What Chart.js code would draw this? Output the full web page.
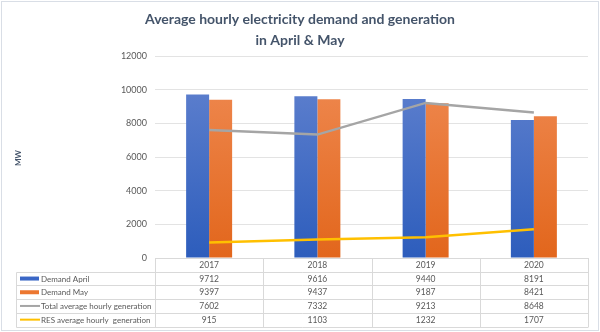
<!DOCTYPE html>
<html>
<head>
<meta charset="utf-8">
<script src="https://cdn.jsdelivr.net/npm/chart.js@4/dist/chart.umd.min.js"></script>
<style>
  html, body { margin: 0; padding: 0; background: #fff; }
  #chart { display: block; }
</style>
</head>
<body>
<canvas id="chart" width="600" height="332"></canvas>
<script>
const years = ['2017', '2018', '2019', '2020'];
const demandApril = [9712, 9616, 9440, 8191];
const demandMay = [9397, 9437, 9187, 8421];
const totalGeneration = [7602, 7332, 9213, 8648];
const resGeneration = [915, 1103, 1232, 1707];
const seriesNames = ['Demand April', 'Demand May', 'Total average hourly generation', 'RES average hourly  generation'];
const yMax = 12000;
const yStep = 2000;

const FONT = 'Lato, Carlito, "Open Sans", sans-serif';
const TEXT = '#595959';
const GRID = '#E3E3E3';

function barGradient(top, bottom) {
  return function (context) {
    const chart = context.chart;
    const area = chart.chartArea;
    if (!area) return bottom;
    const g = chart.ctx.createLinearGradient(0, area.top, 0, area.bottom);
    g.addColorStop(0, top);
    g.addColorStop(1, bottom);
    return g;
  };
}

// table with legend keys under the plot, columns follow the x scale
const dataTable = {
  id: 'dataTable',
  afterDraw(chart) {
    const ctx = chart.ctx;
    const area = chart.chartArea;
    const xs = chart.scales.x;
    const rowH = 13.7;
    const tableLeft = 16.5;
    const colW = (area.right - area.left) / years.length;
    const top = area.bottom;
    const bottom = top + rowH * 5;
    const rows = [demandApril, demandMay, totalGeneration, resGeneration];

    ctx.save();
    ctx.strokeStyle = '#D9D9D9';
    ctx.lineWidth = 1;
    ctx.beginPath();
    for (let i = 1; i <= 5; i++) {
      const y = Math.round(top + rowH * i) + 0.5;
      ctx.moveTo(tableLeft, y);
      ctx.lineTo(area.right, y);
    }
    ctx.moveTo(tableLeft, Math.round(top + rowH) + 0.5);
    ctx.lineTo(tableLeft, Math.round(bottom) + 0.5);
    for (let k = 0; k <= years.length; k++) {
      const x = Math.round(area.left + colW * k) + 0.5;
      ctx.moveTo(x, top);
      ctx.lineTo(x, Math.round(bottom) + 0.5);
    }
    ctx.stroke();

    ctx.font = '8.5px ' + FONT;
    ctx.fillStyle = TEXT;
    ctx.textAlign = 'center';
    ctx.textBaseline = 'middle';
    years.forEach((yr, i) => {
      const cx = xs.getPixelForTick(i);
      ctx.fillText(yr, cx, top + rowH * 0.5 + 0.5);
      rows.forEach((vals, r) => {
        ctx.fillText(String(vals[i]), cx, top + rowH * (r + 1.5) + 0.5);
      });
    });

    ctx.textAlign = 'left';
    ctx.font = '8px ' + FONT;
    chart.data.datasets.forEach((ds, r) => {
      const cy = top + rowH * (r + 1.5);
      if (ds.type === 'line') {
        ctx.fillStyle = ds.borderColor;
        ctx.fillRect(20, cy - 1, 20, 2);
      } else {
        ctx.fillStyle = ds.legendColor;
        ctx.fillRect(20, cy - 2, 19, 4);
      }
      ctx.fillStyle = TEXT;
      ctx.fillText(seriesNames[r], 41, cy + 0.5);
    });

    // axis title
    ctx.save();
    ctx.translate(18, 158);
    ctx.rotate(-Math.PI / 2);
    ctx.textAlign = 'center';
    ctx.font = 'bold 8px ' + FONT;
    ctx.fillStyle = '#44546A';
    ctx.fillText('MW', 0, 0);
    ctx.restore();

    // outer frame
    ctx.strokeStyle = '#D9DEE6';
    ctx.strokeRect(1.5, 1.5, chart.width - 3, chart.height - 3);
    ctx.restore();
  }
};

new Chart(document.getElementById('chart'), {
  type: 'bar',
  data: {
    labels: years,
    datasets: [{
      label: seriesNames[0],
      data: demandApril,
      backgroundColor: barGradient('#6484D0', '#2D5DBC'),
      legendColor: '#3A67C6',
      categoryPercentage: 0.425,
      barPercentage: 1,
      order: 2
    }, {
      label: seriesNames[1],
      data: demandMay,
      backgroundColor: barGradient('#F08C55', '#E2661C'),
      legendColor: '#EC7730',
      categoryPercentage: 0.425,
      barPercentage: 1,
      order: 2
    }, {
      type: 'line',
      label: seriesNames[2],
      data: totalGeneration,
      borderColor: '#A5A5A5',
      borderWidth: 2.5,
      pointRadius: 0,
      tension: 0,
      order: 1
    }, {
      type: 'line',
      label: seriesNames[3],
      data: resGeneration,
      borderColor: '#FFC000',
      borderWidth: 2.5,
      pointRadius: 0,
      tension: 0,
      order: 0
    }]
  },
  options: {
    responsive: false,
    animation: false,
    devicePixelRatio: 1,
    layout: { padding: { left: 12, right: 12, top: 0, bottom: 74 } },
    plugins: {
      legend: { display: false },
      tooltip: { enabled: false },
      title: {
        display: true,
        text: ['Average hourly electricity demand and generation', 'in April & May'],
        color: '#44546A',
        font: { family: FONT, size: 14, weight: 'bold', lineHeight: 1.5 },
        padding: { top: 9, bottom: 5 }
      }
    },
    scales: {
      x: {
        ticks: { display: false },
        grid: { display: false, drawTicks: false },
        border: { color: '#D9D9D9' },
        afterFit(scale) { scale.height = 0; }
      },
      y: {
        min: 0,
        max: yMax,
        ticks: {
          stepSize: yStep,
          color: TEXT,
          padding: 8,
          font: { family: FONT, size: 9 },
          callback: (v) => String(v)
        },
        grid: { color: GRID, drawTicks: false },
        border: { display: false },
        afterFit(scale) { scale.width = 143; }
      }
    }
  },
  plugins: [dataTable]
});
</script>
</body>
</html>
